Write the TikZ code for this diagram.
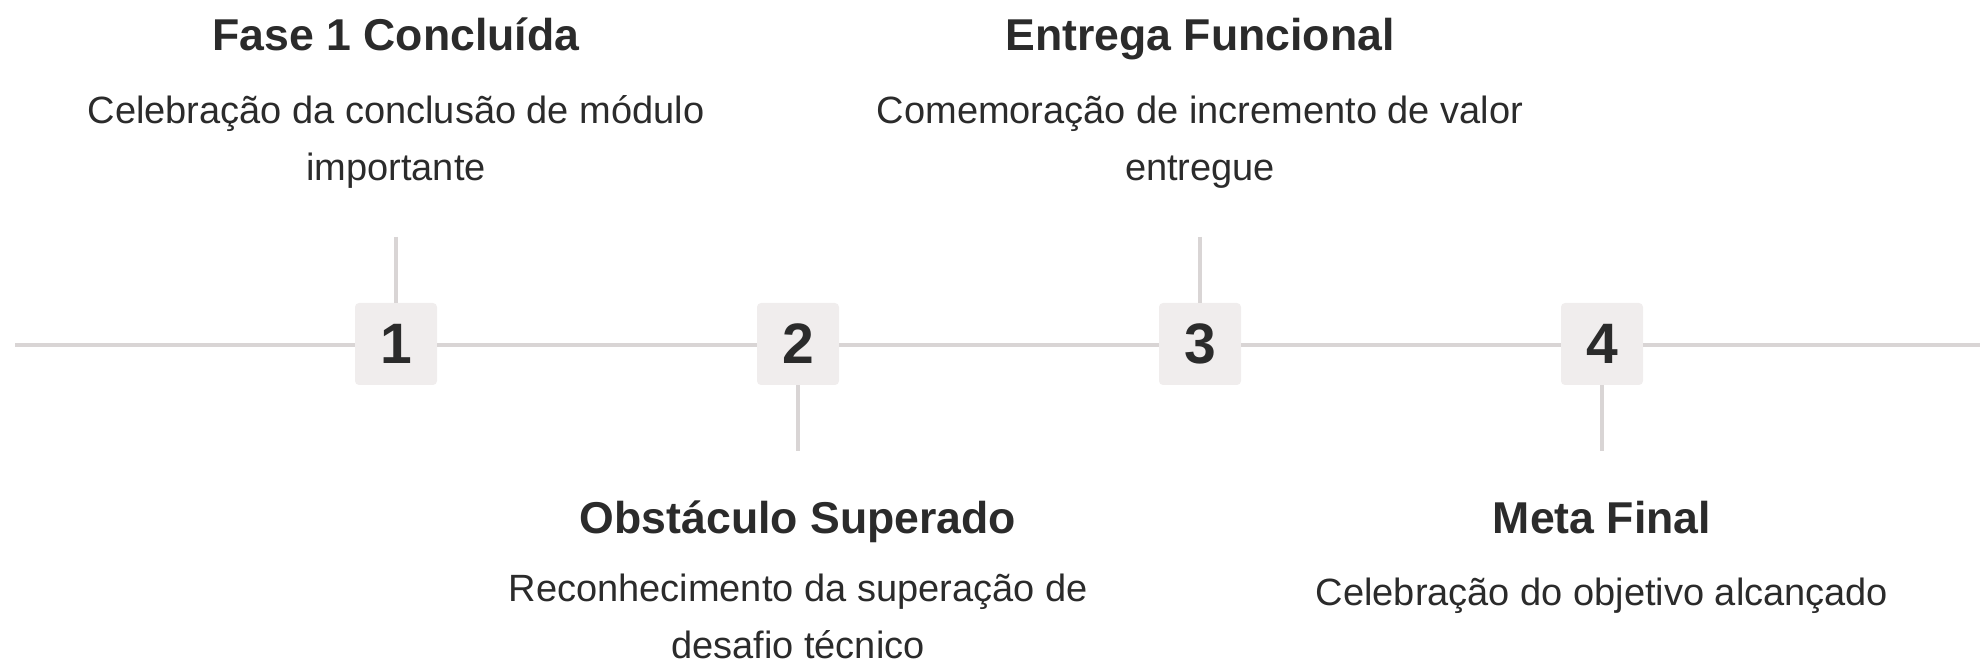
\documentclass[tikz,border=0pt]{standalone}
\usepackage{fontspec}
\setmainfont{Liberation Sans}
\definecolor{inkgray}{HTML}{2B2B2B}
\definecolor{rulegray}{HTML}{D9D5D5}
\definecolor{boxgray}{HTML}{F0EDED}

\begin{document}
\begin{tikzpicture}[x=0.5pt,y=-0.5pt]
    \tikzstyle{every node}=[text=inkgray, inner sep=0pt]
    \tikzstyle{numbox}=[fill=boxgray, rounded corners=2pt, minimum size=41pt, font=\fontsize{28.5}{30}\selectfont\bfseries]
    \tikzstyle{headline}=[anchor=base, font=\fontsize{22.3}{26}\selectfont\bfseries]
    \tikzstyle{blurb}=[anchor=base, align=center, font=\fontsize{19}{28.5}\selectfont]
    \tikzstyle{rule}=[rulegray, line width=1.8pt]

    \useasboundingbox (0,0) rectangle (1983,663);

    \coordinate (start) at (15,345);
    \coordinate (end) at (1980,345);
    \coordinate (top1) at (396,237);
    \coordinate (low2) at (798,451);
    \coordinate (top3) at (1200,237);
    \coordinate (low4) at (1602,451);

    \node[numbox] (m1) at (396,344) {1};
    \node[numbox] (m2) at (798,344) {2};
    \node[numbox] (m3) at (1200,344) {3};
    \node[numbox] (m4) at (1602,344) {4};

    \draw[rule] (start) -- (m1.west |- start);
    \draw[rule] (m1.east |- start) -- (m2.west |- start);
    \draw[rule] (m2.east |- start) -- (m3.west |- start);
    \draw[rule] (m3.east |- start) -- (m4.west |- start);
    \draw[rule] (m4.east |- start) -- (end);
    \draw[rule] (top1) -- (m1);
    \draw[rule] (m2) -- (low2);
    \draw[rule] (top3) -- (m3);
    \draw[rule] (m4) -- (low4);

    % multi-line blurbs sit on the baseline of their last line
    \node[headline] (head1) at (396,51) {Fase 1 Concluída};
    \node[blurb] (info1) at (396,181) {Celebração da conclusão de módulo\\importante};
    \node[headline] (head2) at (798,533) {Obstáculo Superado};
    \node[blurb] (info2) at (798,658) {Reconhecimento da superação de\\desafio técnico};
    \node[headline] (head3) at (1200,51) {Entrega Funcional};
    \node[blurb] (info3) at (1200,181) {Comemoração de incremento de valor\\entregue};
    \node[headline] (head4) at (1602,533) {Meta Final};
    \node[blurb] (info4) at (1602,605) {Celebração do objetivo alcançado};
\end{tikzpicture}
\end{document}
